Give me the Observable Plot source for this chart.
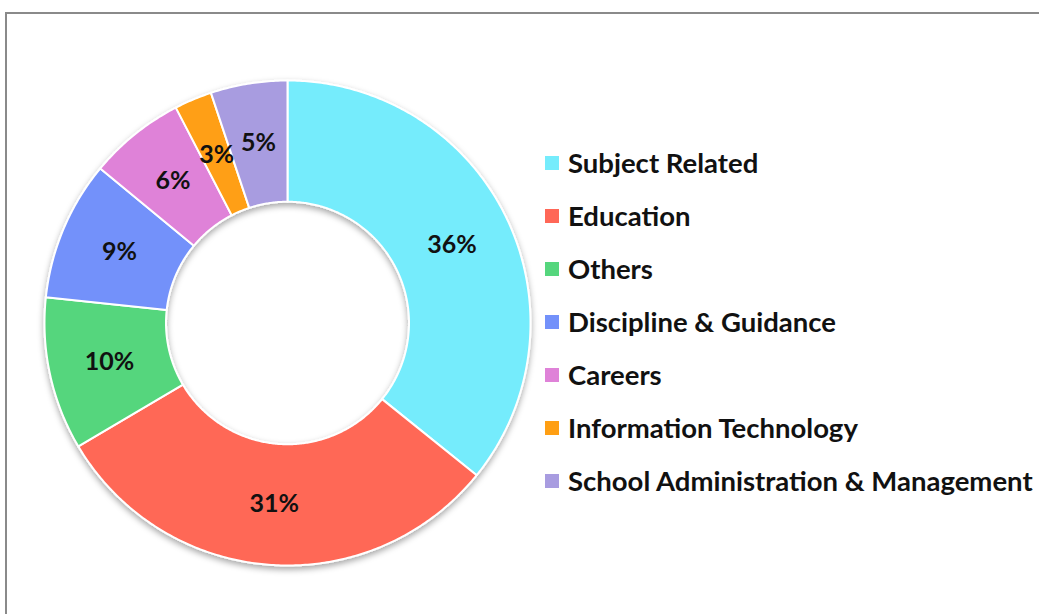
<!DOCTYPE html>
<html>
<head>
<meta charset="utf-8">
<script src="https://cdn.jsdelivr.net/npm/d3@7"></script>
<script src="https://cdn.jsdelivr.net/npm/@observablehq/plot@0.6"></script>
<style>
  html, body { margin: 0; padding: 0; background: #fff; overflow: hidden; width: 1039px; height: 614px; }
  #frame { position: absolute; left: 5px; top: 12px; width: 1200px; height: 800px;
           border-left: 2px solid #8a8a8a; border-top: 2px solid #8a8a8a; }
  #chart { position: absolute; left: 0; top: 0; }
  #legend { position: absolute; left: 545px; top: 136px; font-family: Lato, "Open Sans", sans-serif;
            font-weight: bold; font-size: 27.5px; color: #111; }
  .item { height: 53px; display: flex; align-items: center; white-space: nowrap; }
  .sw { width: 14px; height: 14px; margin-right: 9px; flex: none; }
</style>
</head>
<body>
<div id="frame"></div>
<div id="chart"></div>
<div id="legend"></div>
<script>
const categories = ["Subject Related", "Education", "Others", "Discipline & Guidance", "Careers", "Information Technology", "School Administration & Management"];
const values = [35.8, 30.7, 10.2, 9.3, 6.4, 2.5, 5.1];
const colors = ["#75ECFC", "#FF6757", "#55D67D", "#7391FA", "#DF82D8", "#FF9F13", "#A89CE0"];

const data = categories.map((name, i) => ({name, value: values[i]}));
const total = d3.sum(values);
const arcs = d3.pie().sort(null).value(d => d.value)(data);
const inner = 0.5, outer = 1;

const polys = [];
for (const a of arcs) {
  const n = Math.max(8, Math.ceil((a.endAngle - a.startAngle) / 0.01));
  for (let k = 0; k <= n; k++) {
    const t = a.startAngle + (a.endAngle - a.startAngle) * k / n;
    polys.push({name: a.data.name, x: outer * Math.sin(t), y: outer * Math.cos(t)});
  }
  for (let k = n; k >= 0; k--) {
    const t = a.startAngle + (a.endAngle - a.startAngle) * k / n;
    polys.push({name: a.data.name, x: inner * Math.sin(t), y: inner * Math.cos(t)});
  }
}
const labels = arcs.map(a => {
  const m = (a.startAngle + a.endAngle) / 2, r = (inner + outer) / 2;
  return {name: a.data.name, x: r * Math.sin(m), y: r * Math.cos(m),
          text: Math.round(a.data.value / total * 100) + "%"};
});

const plot = Plot.plot({
  width: 1039, height: 614,
  margin: 0,
  style: {background: "transparent", fontFamily: "Lato, 'Open Sans', sans-serif"},
  x: {domain: [-1, 1], range: [44, 530], axis: null},
  y: {domain: [-1, 1], range: [565, 80], axis: null},
  color: {domain: categories, range: colors},
  marks: [
    Plot.line(polys, {x: "x", y: "y", z: "name", fill: "name", stroke: "white", strokeWidth: 2, curve: "linear-closed"}),
    Plot.text(labels, {x: "x", y: "y", text: "text", fontSize: 25, fontWeight: "bold", fill: "#111"})
  ]
});
document.getElementById("chart").appendChild(plot);

const svg = d3.select(plot);
const f = svg.insert("defs", ":first-child").append("filter")
  .attr("id", "shadow").attr("x", "-10%").attr("y", "-10%").attr("width", "120%").attr("height", "120%");
f.append("feDropShadow").attr("dx", 0).attr("dy", 3).attr("stdDeviation", 3)
  .attr("flood-color", "#000").attr("flood-opacity", 0.35);
svg.select("g[aria-label='line']").attr("filter", "url(#shadow)");

const legend = d3.select("#legend");
categories.forEach((c, i) => {
  const it = legend.append("div").attr("class", "item");
  it.append("div").attr("class", "sw").style("background", colors[i]);
  it.append("span").text(c);
});
</script>
</body>
</html>
